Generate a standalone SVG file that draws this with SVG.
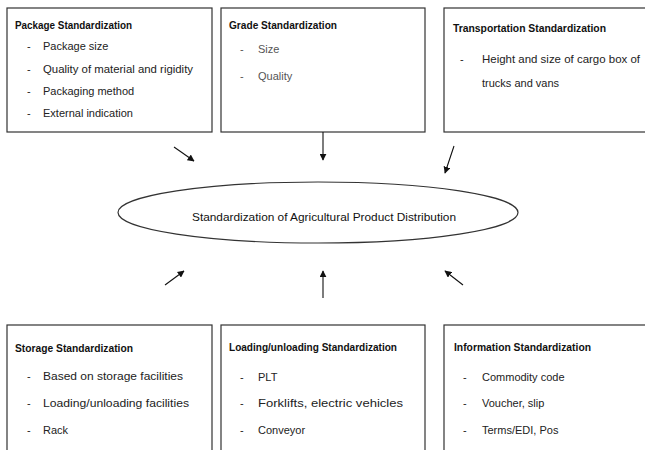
<svg xmlns="http://www.w3.org/2000/svg" width="645" height="450" viewBox="0 0 645 450">
<defs>
<style>
.box{fill:#fff;stroke:#333;stroke-width:1.2}
.t{font-family:"Liberation Sans",Arial,sans-serif;font-size:11.5px;font-weight:bold;fill:#111}
.i{font-family:"Liberation Sans",Arial,sans-serif;font-size:11px;fill:#222}
.g{fill:#555}
.c{stroke:#111;stroke-width:1.1;fill:none;marker-end:url(#ah)}
</style>
<marker id="ah" viewBox="0 0 10 10" refX="9" refY="5" markerWidth="7" markerHeight="7" markerUnits="userSpaceOnUse" orient="auto">
<path d="M0,0 L10,5 L0,10 z" fill="#111"/>
</marker>
</defs>
<rect width="645" height="450" fill="#fff"/>
<g id="package">
<rect class="box" x="7" y="8" width="205" height="124"/>
<text class="t" x="15" y="29" textLength="117" lengthAdjust="spacingAndGlyphs">Package Standardization</text>
<text class="i" x="27" y="50">-</text><text class="i" x="43" y="50">Package size</text>
<text class="i" x="27" y="73">-</text><text class="i" x="43" y="73" textLength="150" lengthAdjust="spacingAndGlyphs">Quality of material and rigidity</text>
<text class="i" x="27" y="95">-</text><text class="i" x="43" y="95">Packaging method</text>
<text class="i" x="27" y="117">-</text><text class="i" x="43" y="117">External indication</text>
</g>
<g id="grade">
<rect class="box" x="221" y="8" width="204" height="124"/>
<text class="t" x="229" y="29" textLength="108" lengthAdjust="spacingAndGlyphs">Grade Standardization</text>
<text class="i g" x="240" y="53">-</text><text class="i g" x="258" y="53">Size</text>
<text class="i g" x="240" y="80">-</text><text class="i g" x="258" y="80">Quality</text>
</g>
<g id="transport">
<rect class="box" x="444" y="8" width="210" height="124"/>
<text class="t" x="453" y="32" textLength="153" lengthAdjust="spacingAndGlyphs">Transportation Standardization</text>
<text class="i" x="460" y="63">-</text><text class="i" x="482" y="63" textLength="158" lengthAdjust="spacingAndGlyphs">Height and size of cargo box of</text>
<text class="i" x="482" y="87">trucks and vans</text>
</g>
<g id="center">
<ellipse cx="318" cy="212.5" rx="200" ry="30.5" fill="#fff" stroke="#333" stroke-width="1.2"/>
<text class="i" x="192" y="221" textLength="264" lengthAdjust="spacingAndGlyphs" style="fill:#111">Standardization of Agricultural Product Distribution</text>
</g>
<g id="storage">
<rect class="box" x="7" y="325" width="205" height="135"/>
<text class="t" x="15" y="352" textLength="118" lengthAdjust="spacingAndGlyphs">Storage Standardization</text>
<text class="i" x="27" y="380">-</text><text class="i" x="43" y="380" textLength="140" lengthAdjust="spacingAndGlyphs">Based on storage facilities</text>
<text class="i" x="27" y="407">-</text><text class="i" x="43" y="407" textLength="146" lengthAdjust="spacingAndGlyphs">Loading/unloading facilities</text>
<text class="i" x="27" y="434">-</text><text class="i" x="43" y="434">Rack</text>
</g>
<g id="loading">
<rect class="box" x="221" y="325" width="204" height="135"/>
<text class="t" x="229" y="351" textLength="168" lengthAdjust="spacingAndGlyphs">Loading/unloading Standardization</text>
<text class="i" x="240" y="381">-</text><text class="i" x="258" y="381">PLT</text>
<text class="i" x="240" y="407">-</text><text class="i" x="258" y="407" textLength="145" lengthAdjust="spacingAndGlyphs">Forklifts, electric vehicles</text>
<text class="i" x="240" y="434">-</text><text class="i" x="258" y="434">Conveyor</text>
</g>
<g id="information">
<rect class="box" x="444" y="325" width="210" height="135"/>
<text class="t" x="454" y="351" textLength="137" lengthAdjust="spacingAndGlyphs">Information Standardization</text>
<text class="i" x="463" y="381">-</text><text class="i" x="482" y="381">Commodity code</text>
<text class="i" x="463" y="407">-</text><text class="i" x="482" y="407">Voucher, slip</text>
<text class="i" x="463" y="434">-</text><text class="i" x="482" y="434">Terms/EDI, Pos</text>
</g>
<g id="connectors">
<line class="c" x1="174" y1="147" x2="194" y2="161"/>
<line class="c" x1="323" y1="132" x2="323" y2="160"/>
<line class="c" x1="454" y1="146" x2="445" y2="173"/>
<line class="c" x1="165" y1="285" x2="184" y2="271"/>
<line class="c" x1="323" y1="298" x2="323" y2="271"/>
<line class="c" x1="463" y1="285" x2="445" y2="271"/>
</g>
</svg>
